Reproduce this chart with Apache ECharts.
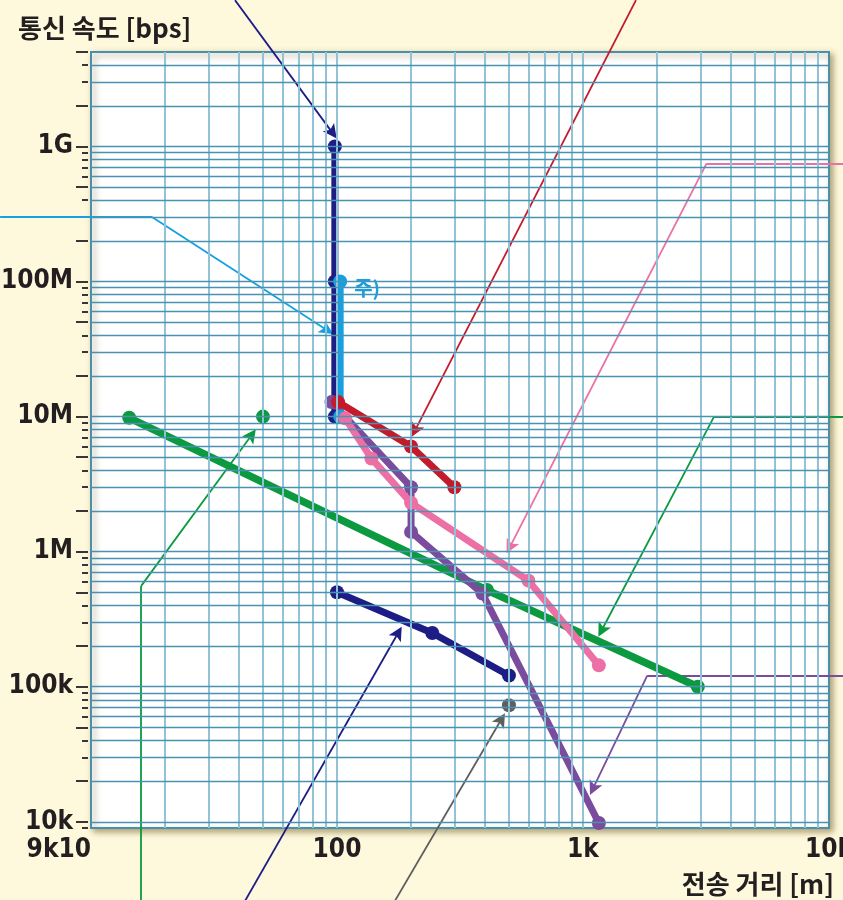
<!DOCTYPE html>
<html><head><meta charset="utf-8">
<script src="https://cdn.jsdelivr.net/npm/echarts@6/dist/echarts.min.js"></script>
<style>html,body{margin:0;padding:0;background:#fef9dc}#c{width:843px;height:900px}</style>
</head><body><div id="c"></div>
<script>
// ---------------- data ----------------
const yTitle = '통신 속도 [bps]';
const xTitle = '전송 거리 [m]';
const noteLabel = '주)';
const xTickValues = [10, 100, 1000, 10000];
const xTickLabels = ['9k10', '100', '1k', '10k'];
const yTickValues = [1e4, 1e5, 1e6, 1e7, 1e8, 1e9];
const yTickLabels = ['10k', '100k', '1M', '10M', '100M', '1G'];

const navyTop   = [[98, 1e9], [98, 1e8], [98, 1e7]];
const lightBlue = [[103, 1e8], [103, 1e7]];
const red       = [[101, 1.28e7], [200, 6e6], [300, 3e6]];
const purple    = [[95, 1.28e7], [200, 3e6], [200, 1.4e6], [390, 4.9e5], [1160, 9.8e3]];
const pink      = [[108, 9.7e6], [138, 4.9e6], [200, 2.3e6], [600, 6.1e5], [1160, 1.44e5]];
const green     = [[14.3, 9.8e6], [407, 5.2e5], [2930, 1e5]];
const greenDot  = [[50, 1e7]];
const navyLow   = [[100, 5e5], [244, 2.5e5], [500, 1.21e5]];
const grayDot   = [[500, 7.3e4]];

// callout leader segments (no arrow) and arrow segments, in data units
const leaderLightBlue = [[4.27, 3e8], [17.7, 3e8]];
const leaderPink      = [[12000, 7.5e8], [3180, 7.5e8]];
const leaderGreenR    = [[12000, 1e7], [3410, 1e7]];
const leaderPurple    = [[12000, 1.21e5], [1824, 1.21e5]];
const leaderGreenL    = [[16, 2e3], [16, 5.58e5]];

const arrowNavy      = [[38.5, 1.21e10], [95.9, 1.26e9]];
const arrowLightBlue = [[17.7, 3e8], [91.2, 4.36e7]];
const arrowRed       = [[1642, 1.21e10], [207.4, 7.88e6]];
const arrowPink      = [[3180, 7.5e8], [504, 1.08e6]];
const arrowGreenR    = [[3410, 1e7], [1190, 2.61e5]];
const arrowPurple    = [[1824, 1.21e5], [1098, 1.76e4]];
const arrowGreenL    = [[16, 5.58e5], [45, 7.31e6]];
const arrowNavyLow   = [[42.3, 2.6e3], [177.4, 2.51e5]];
const arrowGray      = [[172, 2.6e3], [466, 5.74e4]];

// ---------------- style ----------------
const C = {
  navy: '#1d1d86', lblue: '#16a0e2', red: '#c31b2b', purple: '#7b4b9d',
  pink: '#ec6fa5', green: '#0b9a40', gray: '#5f5f5f', text: '#231f20',
  vgrid: '#92c2d5', hgrid: '#4a92b2', border: '#4a8fae'
};
const LABEL_FONT = "'Liberation Sans Narrow','DejaVu Sans Condensed','Roboto Condensed','Noto Sans',sans-serif";
const KR_FONT = "'Noto Sans CJK KR','Noto Sans',sans-serif";
const ARROW_PATH = 'path://M0,0 L6,15 L0,11.5 L-6,15 Z';

const YMIN = 9000, YMAX = 5e9, XMIN = 10, XMAX = 10000;

const majorTicks = [], minorTicks = [], hLines = [], vLines = [];
for (let e = 3; e <= 9; e++) {
  for (let m = 1; m <= 9; m++) {
    const v = m * Math.pow(10, e);
    if (v < YMIN - 1 || v > YMAX + 1) continue;
    ([1, 2, 5].includes(m) ? majorTicks : minorTicks).push(v);
    if (v > YMIN + 1 && v < YMAX - 1) hLines.push(v);
  }
}
for (let e = 1; e <= 3; e++) {
  for (let m = 1; m <= 9; m++) {
    const v = m * Math.pow(10, e);
    if (v > XMIN && v < XMAX) vLines.push(v);
  }
}

const gridMarks = vLines.map(v => ({ xAxis: v, lineStyle: { color: C.vgrid, width: 2, type: 'solid' } }))
  .concat(hLines.map(v => ({ yAxis: v, lineStyle: { color: C.hgrid, width: 1.3, type: 'solid' } })));

function dataLine(name, data, color, width, z) {
  return {
    name, type: 'line', data, z: z || 3, clip: false, animation: false,
    symbol: 'circle', symbolSize: 14, showSymbol: true,
    lineStyle: { color, width: width || 7, cap: 'round', join: 'round' },
    itemStyle: { color, borderWidth: 0 }
  };
}

const leaders = [
  [leaderLightBlue, C.lblue], [leaderPink, C.pink], [leaderGreenR, C.green],
  [leaderPurple, C.purple], [leaderGreenL, C.green]
];
const arrows = [
  [arrowNavy, C.navy], [arrowLightBlue, C.lblue], [arrowRed, C.red], [arrowPink, C.pink],
  [arrowGreenR, C.green], [arrowPurple, C.purple], [arrowGreenL, C.green],
  [arrowNavyLow, C.navy], [arrowGray, C.gray]
];

const lightBlueData = lightBlue.map((p, i) => i === 0 ? {
  value: p,
  label: { show: true, formatter: noteLabel, position: 'right', distance: 7, offset: [0, 7],
    color: C.lblue, fontFamily: KR_FONT, fontWeight: 'bold', fontSize: 20 }
} : p);

const chart = echarts.init(document.getElementById('c'), null, { renderer: 'canvas', width: 843, height: 900 });

const option = {
  backgroundColor: '#fef9dc',
  animation: false,
  title: [
    { text: yTitle, left: 13, top: 10, textStyle: { fontFamily: KR_FONT, fontWeight: 'bold', fontSize: 26, color: C.text } },
    { text: xTitle, right: 4, bottom: -2, textStyle: { fontFamily: KR_FONT, fontWeight: 'bold', fontSize: 26, color: C.text } }
  ],
  grid: {
    left: 91, right: 14, top: 52, bottom: 72, show: true, outerBoundsMode: 'none', containLabel: false,
    backgroundColor: '#ffffff', borderColor: C.border, borderWidth: 2,
    shadowColor: 'rgba(110,90,30,0.55)', shadowBlur: 6, shadowOffsetX: 3, shadowOffsetY: 3
  },
  xAxis: {
    type: 'log', logBase: 10, min: XMIN, max: XMAX,
    axisLine: { show: false }, axisTick: { show: false }, splitLine: { show: false },
    axisLabel: {
      customValues: xTickValues, margin: 9, alignMinLabel: 'right',
      formatter: v => { const i = xTickValues.findIndex(t => Math.abs(t - v) / t < 1e-6); return i >= 0 ? xTickLabels[i] : ''; },
      fontFamily: LABEL_FONT, fontWeight: 'bold', fontSize: 26, color: C.text
    }
  },
  yAxis: [
    {
      type: 'log', logBase: 10, min: YMIN, max: YMAX, position: 'left', offset: 3,
      axisLine: { show: false }, splitLine: { show: false },
      axisTick: { show: true, customValues: majorTicks, length: 12, lineStyle: { color: '#3a3435', width: 2 } },
      axisLabel: {
        customValues: yTickValues, margin: 15,
        formatter: v => { const i = yTickValues.findIndex(t => Math.abs(t - v) / t < 1e-6); return i >= 0 ? yTickLabels[i] : ''; },
        fontFamily: LABEL_FONT, fontWeight: 'bold', fontSize: 26, color: C.text
      }
    },
    {
      type: 'log', logBase: 10, min: YMIN, max: YMAX, position: 'left', offset: 3,
      axisLine: { show: false }, splitLine: { show: false }, axisLabel: { show: false },
      axisTick: { show: true, customValues: minorTicks, length: 6, lineStyle: { color: '#3a3435', width: 2 } }
    }
  ],
  series: [
    {
      name: 'grid', type: 'line', data: [[XMIN, YMIN]], symbol: 'none', z: 1, silent: true,
      lineStyle: { width: 0, opacity: 0 },
      markLine: { silent: true, symbol: 'none', animation: false, label: { show: false }, data: gridMarks }
    },
    {
      name: 'leaders', type: 'lines', coordinateSystem: 'cartesian2d', z: 2, clip: false, silent: true,
      symbol: 'none',
      data: leaders.map(([coords, color]) => ({ coords, lineStyle: { color, width: 1.8, opacity: 1 } }))
    },
    {
      name: 'arrows', type: 'lines', coordinateSystem: 'cartesian2d', z: 2, clip: false, silent: true,
      symbol: ['none', ARROW_PATH], symbolSize: 14,
      data: arrows.map(([coords, color]) => ({ coords, lineStyle: { color, width: 1.8, opacity: 1 } }))
    },
    dataLine('green', green, C.green, 7.5),
    dataLine('navyLow', navyLow, C.navy),
    dataLine('gray', grayDot, C.gray),
    dataLine('navyTop', navyTop, C.navy),
    dataLine('lightBlue', lightBlueData, C.lblue),
    dataLine('purple', purple, C.purple),
    dataLine('pink', pink, C.pink),
    dataLine('red', red, C.red),
    dataLine('greenDot', greenDot, C.green)
  ]
};
chart.setOption(option);
</script>
</body></html>
